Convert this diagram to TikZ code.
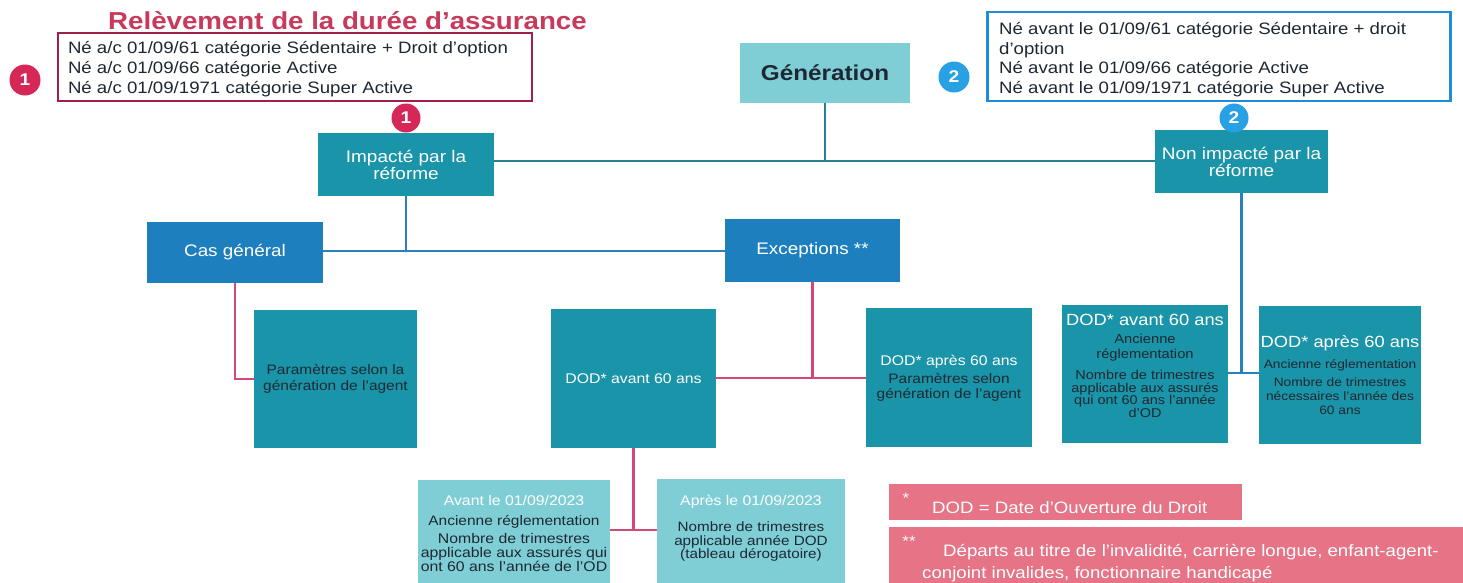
\documentclass[tikz,border=0pt]{standalone}
\usepackage{fontspec}
\setmainfont[FakeStretch=1.13]{Liberation Sans}
\definecolor{tealbox}{RGB}{26,148,168}
\definecolor{bluebox}{RGB}{30,127,190}
\definecolor{lteal}{RGB}{127,206,214}
\definecolor{pinkfn}{RGB}{230,116,134}
\definecolor{titlepink}{RGB}{200,58,92}
\definecolor{redframe}{RGB}{160,32,72}
\definecolor{circred}{RGB}{214,40,88}
\definecolor{circblue}{RGB}{40,160,228}
\definecolor{blueframe}{RGB}{30,140,215}
\definecolor{linteal}{RGB}{40,128,148}
\definecolor{linblue}{RGB}{40,128,190}
\definecolor{linpink}{RGB}{210,72,120}
\definecolor{darktxt}{RGB}{30,40,50}
\newcommand{\fsz}[2]{\fontsize{#1}{#2}\selectfont}
\tikzset{
  tbox/.style={fill=tealbox, text=white, align=center, inner sep=0pt},
  bbox/.style={fill=bluebox, text=white, align=center, inner sep=0pt},
  lbox/.style={fill=lteal, align=center, inner sep=0pt},
  txt/.style={align=center, inner sep=0pt, anchor=center},
  num/.style={circle, inner sep=0pt, minimum size=31pt, text=white, font=\fsz{17}{17}\bfseries},
  lteal line/.style={draw=linteal, line width=2.2pt},
  lblue line/.style={draw=linblue, line width=2.2pt},
  lpink line/.style={draw=linpink, line width=2.2pt},
}
\begin{document}
\begin{tikzpicture}[x=1pt,y=-1pt]
\useasboundingbox (0,0) rectangle (1463,582);
\fill[white] (0,0) rectangle (1463,582);

% title
\node[anchor=base west, text=titlepink, font=\fsz{24.5}{24}\bfseries, inner sep=0pt] (title) at (108,29) {Relèvement de la durée d’assurance};

% red frame
\node[draw=redframe, line width=2.6pt, minimum width=474pt, minimum height=68pt, inner sep=0pt] (redf) at (295,67) {};
\node[txt, align=left, font=\fsz{16.5}{20}, text=darktxt] (redtxt) at (288,69) {%
Né a/c 01/09/61 catégorie Sédentaire + Droit d'option\\
Né a/c 01/09/66 catégorie Active\\
Né a/c 01/09/1971 catégorie Super Active};
\node[num, fill=circred] (c1a) at (25,80) {1};

% blue frame
\node[draw=blueframe, line width=2.6pt, minimum width=463pt, minimum height=89pt, inner sep=0pt] (bluef) at (1219,56.5) {};
\node[anchor=west, align=left, font=\fsz{16.5}{19.7}, inner sep=0pt, text=darktxt] (bluetxt) at (999,59.5) {%
Né avant le 01/09/61 catégorie Sédentaire + droit\\
d'option\\
Né avant le 01/09/66 catégorie Active\\
Né avant le 01/09/1971 catégorie Super Active};
\node[num, fill=circblue] (c2a) at (954,77) {2};

% generation
\node[lbox, minimum width=170pt, minimum height=60pt, font=\fsz{21.5}{22}\bfseries, text=darktxt] (gen) at (825,73) {Génération};

% level 1
\node[tbox, minimum width=176pt, minimum height=63pt, font=\fsz{16.8}{17}] (imp) at (406,164.5) {Impacté par la\\réforme};
\node[tbox, minimum width=173pt, minimum height=63pt, font=\fsz{16.8}{17}] (nimp) at (1241.5,161.5) {Non impacté par la\\réforme};
\node[num, fill=circred, minimum size=29pt] (c1b) at (406,118) {1};
\node[num, fill=circblue, minimum size=29pt] (c2b) at (1234,118) {2};

\coordinate (j1) at (825,161);
\draw[lteal line] (gen.south) -- (j1);
\draw[lteal line] (imp.east |- j1) -- (nimp.west |- j1);

% level 2
\node[bbox, minimum width=176pt, minimum height=61pt, font=\fsz{16.7}{17}] (cas) at (235,252.5) {Cas général};
\node[bbox, minimum width=175pt, minimum height=63pt, font=\fsz{16.7}{17}] (exc) at (812.5,250.5) {Exceptions **};
\coordinate (j2) at (406,251);
\draw[lblue line] (imp.south) -- (j2);
\draw[lblue line] (cas.east |- j2) -- (exc.west |- j2);

% level 3
\node[tbox, minimum width=163pt, minimum height=138pt, font=\fsz{13.7}{16}, text=darktxt] (param) at (335.5,379) {Paramètres selon la\\génération de l'agent};
\node[tbox, minimum width=165pt, minimum height=139pt, font=\fsz{14}{14}] (dav) at (633.5,378.5) {DOD* avant 60 ans};
\node[tbox, minimum width=166pt, minimum height=139pt] (dap) at (949,377.5) {};
\node[txt, text=white, font=\fsz{14}{14}] (dapt) at (949,362) {DOD* après 60 ans};
\node[txt, text=darktxt, font=\fsz{13.7}{15}] (dapt2) at (949,387.5) {Paramètres selon\\génération de l'agent};

\draw[lpink line] (cas.south) |- (param.west);
\coordinate (j3) at (812.5,378);
\draw[lpink line] (exc.south) -- (j3);
\draw[lpink line] (dav.east |- j3) -- (dap.west |- j3);

% right side level 3
\node[tbox, minimum width=166pt, minimum height=138pt] (rav) at (1145,374) {};
\node[tbox, minimum width=162pt, minimum height=138pt] (rap) at (1340,375) {};
\node[txt, text=white, font=\fsz{16.2}{16}] (ravt) at (1145,320) {DOD* avant 60 ans};
\node[txt, text=darktxt, font=\fsz{13}{15}] (ravt2) at (1145,347.5) {Ancienne\\réglementation};
\node[txt, text=darktxt, font=\fsz{12.8}{12.7}] (ravt3) at (1145,394) {Nombre de trimestres\\applicable aux assurés\\qui ont 60 ans l'année\\d'OD};
\node[txt, text=white, font=\fsz{16.2}{16}] (rapt) at (1340,343) {DOD* après 60 ans};
\node[txt, text=darktxt, font=\fsz{12.2}{12}] (rapt2) at (1340,365) {Ancienne réglementation};
\node[txt, text=darktxt, font=\fsz{12.2}{14}] (rapt3) at (1340,396) {Nombre de trimestres\\nécessaires l'année des\\60 ans};
\coordinate (j4) at (1241.5,373);
\draw[lblue line] (nimp.south) -- (j4);
\draw[lblue line] (rav.east |- j4) -- (rap.west |- j4);

% level 4
\node[lbox, minimum width=192pt, minimum height=110pt] (av23) at (514,535) {};
\node[lbox, minimum width=188pt, minimum height=111pt] (ap23) at (751,534.5) {};
\node[txt, text=white, font=\fsz{14}{14}] (av23t) at (514,500) {Avant le 01/09/2023};
\node[txt, text=darktxt, font=\fsz{13.7}{14}] (av23t2) at (514,522) {Ancienne réglementation};
\node[txt, text=darktxt, font=\fsz{14}{14}] (av23t3) at (514,552) {Nombre de trimestres\\applicable aux assurés qui\\ont 60 ans l'année de l'OD};
\node[txt, text=white, font=\fsz{14}{14}] (ap23t) at (751,502) {Après le 01/09/2023};
\node[txt, text=darktxt, font=\fsz{13.5}{13.5}] (ap23t2) at (751,541.5) {Nombre de trimestres\\applicable année DOD\\(tableau dérogatoire)};
\coordinate (j5) at (633.5,530);
\draw[lpink line] (dav.south) -- (j5);
\draw[lpink line] (av23.east |- j5) -- (ap23.west |- j5);

% footnotes
\node[fill=pinkfn, minimum width=353pt, minimum height=36pt, inner sep=0pt] (fn1) at (1065.5,502) {};
\node[txt, text=white, font=\fsz{15}{15}] (fn1s) at (906,498) {*};
\node[anchor=west, text=white, font=\fsz{16.5}{16.5}, inner sep=0pt] (fn1t) at (932,508) {DOD = Date d'Ouverture du Droit};
\node[fill=pinkfn, minimum width=580pt, minimum height=63pt, inner sep=0pt] (fn2) at (1179,558.5) {};
\node[txt, text=white, font=\fsz{15}{15}] (fn2s) at (909,541) {**};
\node[anchor=west, text=white, font=\fsz{16.5}{16.5}, inner sep=0pt] (fn2t) at (943,552) {Départs au titre de l'invalidité, carrière longue, enfant-agent-};
\node[anchor=west, text=white, font=\fsz{16.5}{16.5}, inner sep=0pt] (fn2u) at (922,574) {conjoint invalides, fonctionnaire handicapé};
\end{tikzpicture}
\end{document}
